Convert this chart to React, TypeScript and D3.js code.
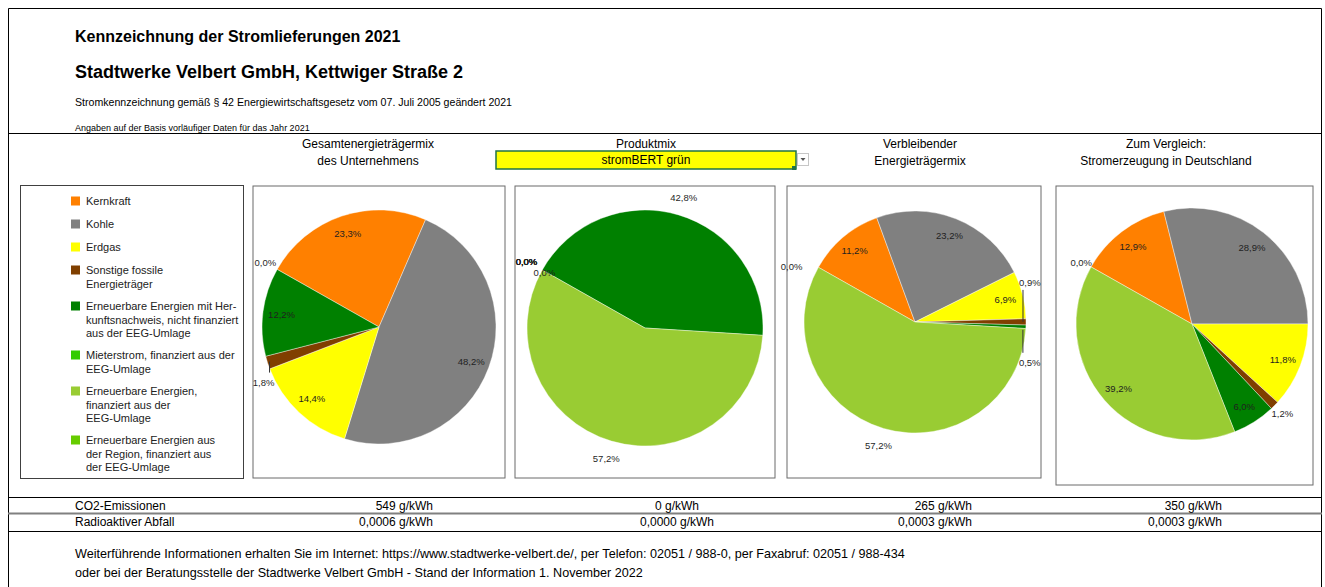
import * as d3 from 'd3';

// categories and colours (Excel default palette used in the sheet)
const categories = [
  'Kernkraft',
  'Kohle',
  'Erdgas',
  'Sonstige fossile Energieträger',
  'Erneuerbare Energien mit Herkunftsnachweis, nicht finanziert aus der EEG-Umlage',
  'Mieterstrom, finanziert aus der EEG-Umlage',
  'Erneuerbare Energien, finanziert aus der EEG-Umlage',
  'Erneuerbare Energien aus der Region, finanziert aus der EEG-Umlage',
];
const legendLines = [
  ['Kernkraft'],
  ['Kohle'],
  ['Erdgas'],
  ['Sonstige fossile', 'Energieträger'],
  ['Erneuerbare Energien mit Her-', 'kunftsnachweis, nicht finanziert', 'aus der EEG-Umlage'],
  ['Mieterstrom, finanziert aus der', 'EEG-Umlage'],
  ['Erneuerbare Energien,', 'finanziert aus der', 'EEG-Umlage'],
  ['Erneuerbare Energien aus', 'der Region, finanziert aus', 'der EEG-Umlage'],
];
const colors = ['#ff8000', '#808080', '#ffff00', '#803f00', '#008000', '#33cc00', '#99cc33', '#66cc00'];

// percentages per pie, in category order
const gesamtMix = [23.3, 48.2, 14.4, 1.8, 12.2, 0, 0, 0];
const produktMix = [0, 0, 0, 0, 42.8, 0, 57.2, 0];
const verbleibendMix = [11.2, 23.2, 6.9, 0.9, 0.5, 0, 57.2, 0];
const deutschlandMix = [12.9, 28.9, 11.8, 1.2, 6.0, 0, 39.2, 0];

const columnTitles = [
  ['Gesamtenergieträgermix', 'des Unternehmens'],
  ['Produktmix'],
  ['Verbleibender', 'Energieträgermix'],
  ['Zum Vergleich:', 'Stromerzeugung in Deutschland'],
];
const productName = 'stromBERT grün';

const co2Values = ['549 g/kWh', '0 g/kWh', '265 g/kWh', '350 g/kWh'];
const wasteValues = ['0,0006 g/kWh', '0,0000 g/kWh', '0,0003 g/kWh', '0,0003 g/kWh'];

// label placement as Excel shows it
const labelModes = [
  ['in', 'in', 'in', 'down', 'in', '', '', 'zero'],
  ['zero', 'zero', 'zero', 'zero', 'out', '', 'out', 'zeroIn'],
  ['in', 'in', 'in', 'up', 'down', '', 'out', 'zero'],
  ['in', 'in', 'in', 'outS', 'in', '', 'in', 'zero'],
];

const pieBoxes = [
  { x: 253, y: 186, w: 252, h: 292, cx: 379, cy: 327, r: 117, zero: [-1, -7], lead: 'mid' },
  { x: 515, y: 186, w: 260, h: 292, cx: 645, cy: 328, r: 118, zero: [-5, -8], lead: 'mid' },
  { x: 787, y: 186, w: 254, h: 292, cx: 915, cy: 322, r: 111, zero: [-16, -1], lead: 'side' },
  { x: 1056, y: 186, w: 257, h: 299, cx: 1192, cy: 324, r: 116, zero: [1, -4], lead: 'mid' },
];

const FONT = 'Liberation Sans, Arial, sans-serif';
const startAngle = (-60.5 * Math.PI) / 180;
const fmt = (v: number) => d3.format('.1f')(v).replace('.', ',') + '%';

function Pie({ values, box, modes }: { values: number[]; box: any; modes: string[] }) {
  const pie = d3.pie<number>().sort(null).value(d => d).startAngle(startAngle).endAngle(startAngle + 2 * Math.PI);
  const arcs = pie(values);
  const arc = d3.arc<d3.PieArcDatum<number>>().innerRadius(0).outerRadius(box.r);
  const ring = (rr: number) => d3.arc<d3.PieArcDatum<number>>().innerRadius(rr).outerRadius(rr);
  const inArc = ring(box.r * 0.84);
  const outArc = ring(box.r + 18);
  const outSArc = ring(box.r + 11);
  const edge = ring(box.r);

  return (
    <g>
      <rect x={box.x} y={box.y} width={box.w} height={box.h} fill="#fff" stroke="#6b6b6b" strokeWidth={1} />
      <g transform={`translate(${box.cx},${box.cy})`}>
        {arcs.map((a, i) =>
          a.value > 0 ? <path key={i} d={arc(a) || ''} fill={colors[i]} stroke="#fff" strokeWidth={0.4} /> : null
        )}
        {arcs.map((a, i) => {
          const m = modes[i];
          if (!m) return null;
          const t = fmt(a.value);
          const common = { fontSize: 9.5, fill: '#1f1f1f', dominantBaseline: 'central' as const };
          if (m === 'in' || m === 'out' || m === 'outS') {
            const [x, y] = (m === 'in' ? inArc : m === 'out' ? outArc : outSArc).centroid(a);
            return <text key={i} x={x} y={y} textAnchor="middle" {...common}>{t}</text>;
          }
          const [px, py] = edge.centroid(a);
          if (m === 'zero') {
            return <text key={i} x={px + box.zero[0]} y={py + box.zero[1]} textAnchor="end" {...common}>{t}</text>;
          }
          if (m === 'zeroIn') {
            return <text key={i} x={px + 2} y={py + 3} textAnchor="middle" {...common}>{t}</text>;
          }
          if (box.lead === 'mid') {
            // short leader straight down, label centred below
            return (
              <g key={i}>
                <line x1={px + 2} x2={px + 2} y1={py - 1} y2={py + 10} stroke="#333" strokeWidth={1} />
                <text x={px - 4} y={py + 20} textAnchor="middle" {...common}>{t}</text>
              </g>
            );
          }
          const up = m === 'up';
          const y2 = up ? py - 32 : py + 26;
          return (
            <g key={i}>
              <line x1={px - 3} x2={px - 3} y1={up ? py : py + 3} y2={y2} stroke="#333" strokeWidth={1} />
              <text x={px - 7} y={up ? y2 - 7 : y2 + 10} textAnchor="start" {...common}>{t}</text>
            </g>
          );
        })}
      </g>
    </g>
  );
}

export default function App() {
  const mixes = [gesamtMix, produktMix, verbleibendMix, deutschlandMix];
  const colCenters = [368, 646, 920, 1166];
  const valueX = [433, 677, 972, 1222];

  // legend rows stacked by number of lines
  let ly = 201;
  const legendRows = legendLines.map(lines => {
    const y = ly;
    ly += 10 + 13 * lines.length;
    return y;
  });

  return (
    <svg width={1325} height={587} style={{ position: 'absolute', left: 0, top: 0 }} fontFamily={FONT}>
      <rect x={0} y={0} width={1325} height={587} fill="#fff" />
      {/* outer frame */}
      <path d="M8.5,600 V8.5 H1321.5 V600" fill="none" stroke="#000" strokeWidth={1} />
      <line x1={8} x2={1322} y1={133.5} y2={133.5} stroke="#000" />

      <text x={75} y={36} fontSize={16} fontWeight="bold" dominantBaseline="central">Kennzeichnung der Stromlieferungen 2021</text>
      <text x={75} y={72} fontSize={18} fontWeight="bold" dominantBaseline="central">Stadtwerke Velbert GmbH, Kettwiger Straße 2</text>
      <text x={75} y={102} fontSize={10.6} dominantBaseline="central">Stromkennzeichnung gemäß § 42 Energiewirtschaftsgesetz vom 07. Juli 2005 geändert 2021</text>
      <text x={75} y={127.5} fontSize={9} dominantBaseline="central">Angaben auf der Basis vorläufiger Daten für das Jahr 2021</text>

      {columnTitles.map((lines, c) =>
        lines.map((s, k) => (
          <text key={`${c}-${k}`} x={colCenters[c]} y={144 + k * 17} fontSize={12} textAnchor="middle" dominantBaseline="central">{s}</text>
        ))
      )}
      {/* product selector cell */}
      <rect x={496} y={151} width={300} height={18} fill="#ffff00" stroke="#217346" strokeWidth={1.5} />
      <rect x={792} y={166} width={4} height={4} fill="#217346" />
      <text x={646} y={160} fontSize={12} textAnchor="middle" dominantBaseline="central">{productName}</text>
      <rect x={797.5} y={153.5} width={11} height={12} fill="#fff" stroke="#c6c6c6" />
      <path d="M800.5,158 h5 l-2.5,3 z" fill="#555" />

      {/* legend */}
      <rect x={20.5} y={185.5} width={223} height={293} fill="#fff" stroke="#404040" />
      {legendLines.map((lines, i) => (
        <g key={i}>
          <rect x={71} y={legendRows[i] - 4.5} width={9} height={9} fill={colors[i]} />
          {lines.map((s, k) => (
            <text key={k} x={86} y={legendRows[i] + k * 13.7} fontSize={11} dominantBaseline="central" fill="#222">{s}</text>
          ))}
        </g>
      ))}

      {mixes.map((m, i) => (
        <Pie key={i} values={m} box={pieBoxes[i]} modes={labelModes[i]} />
      ))}

      {/* emission table */}
      <line x1={8} x2={1322} y1={497.5} y2={497.5} stroke="#000" />
      <line x1={8} x2={1322} y1={513.5} y2={513.5} stroke="#808080" strokeWidth={2} />
      <line x1={8} x2={1322} y1={531.5} y2={531.5} stroke="#000" />
      <text x={75} y={505.5} fontSize={12} dominantBaseline="central">CO2-Emissionen</text>
      <text x={75} y={522} fontSize={12} dominantBaseline="central">Radioaktiver Abfall</text>
      {co2Values.map((v, i) => (
        <text key={i} x={valueX[i]} y={505.5} fontSize={12} textAnchor={i === 1 ? 'middle' : 'end'} dominantBaseline="central">{v}</text>
      ))}
      {wasteValues.map((v, i) => (
        <text key={i} x={valueX[i]} y={522} fontSize={12} textAnchor={i === 1 ? 'middle' : 'end'} dominantBaseline="central">{v}</text>
      ))}

      <text x={75} y={554} fontSize={12.6} dominantBaseline="central">Weiterführende Informationen erhalten Sie im Internet: https://www.stadtwerke-velbert.de/, per Telefon: 02051 / 988-0, per Faxabruf: 02051 / 988-434</text>
      <text x={75} y={573} fontSize={12.6} dominantBaseline="central">oder bei der Beratungsstelle der Stadtwerke Velbert GmbH - Stand der Information 1. November 2022</text>
    </svg>
  );
}
